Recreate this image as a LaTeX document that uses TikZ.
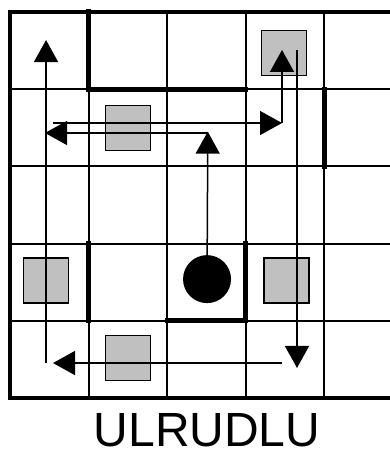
\documentclass[tikz,border=0pt]{standalone}
\usepackage{fontspec}
\setmainfont{Liberation Sans}
\usetikzlibrary{arrows.meta}
\definecolor{crategrey}{HTML}{C0C0C0}

\begin{document}
\begin{tikzpicture}[
  x=78.5pt, y=-77.2pt,
  cell/.style={draw=black,line width=2pt},
  rim/.style={draw=black,line width=4pt},
  wall/.style={draw=black,line width=5pt,line cap=rect},
  crate/.style={draw=black,fill=crategrey,line width=1.5pt,minimum size=45pt,inner sep=0pt},
  ball/.style={circle,fill=black,minimum size=48pt,inner sep=0pt},
  mv/.style={-{Triangle[length=22pt,width=24pt]},line width=1.5pt}
]
\clip (-10pt,12pt) rectangle (380pt,-443pt);

% board
\foreach \i in {1,...,4} {
  \draw[cell] (\i,0) -- (\i,5);
  \draw[cell] (0,\i) -- (5,\i);
}
\draw[rim] (0,0) rectangle (5,5);
\draw[wall] (1,0) -- (1,1) -- (3,1);
\draw[wall] (4,1) -- (4,2);
\draw[wall] (1,3) -- (1,4);
\draw[wall] (2,4) -- (3,4) -- (3,3);

% crates and ball
\node[crate] (c03) at (3.49,0.53) {};
\node[crate] (c11) at (1.50,1.50) {};
\node[crate] (c30) at (0.46,3.48) {};
\node[crate] (c33) at (3.52,3.48) {};
\node[crate] (c41) at (1.50,4.48) {};
\node[ball] (ball) at (2.51,3.46) {};

% turning points of the run
\coordinate (up1)  at (2.52,1.55);
\coordinate (lf1a) at (2.52,1.567);
\coordinate (lf1b) at (0.446,1.567);
\coordinate (rt1a) at (0.548,1.438);
\coordinate (rt1b) at (3.465,1.438);
\coordinate (up2)  at (3.465,0.492);
\coordinate (dn1a) at (3.656,0.492);
\coordinate (dn1b) at (3.656,4.611);
\coordinate (lf2a) at (3.465,4.547);
\coordinate (lf2b) at (0.548,4.547);
\coordinate (up3a) at (0.459,4.547);
\coordinate (up3b) at (0.459,0.363);

\draw[mv] (ball.center) -- (up1);
\draw[mv] (lf1a) -- (lf1b);
\draw[mv] (rt1a) -- (rt1b);
\draw[mv] (rt1b) -- (up2);
\draw[mv] (dn1a) -- (dn1b);
\draw[mv] (lf2a) -- (lf2b);
\draw[mv] (up3a) -- (up3b);

\node[anchor=base,inner sep=0pt,font=\fontsize{48pt}{58pt}\selectfont] (moves) at (2.51,5.63) {ULRUDLU};
\end{tikzpicture}
\end{document}
